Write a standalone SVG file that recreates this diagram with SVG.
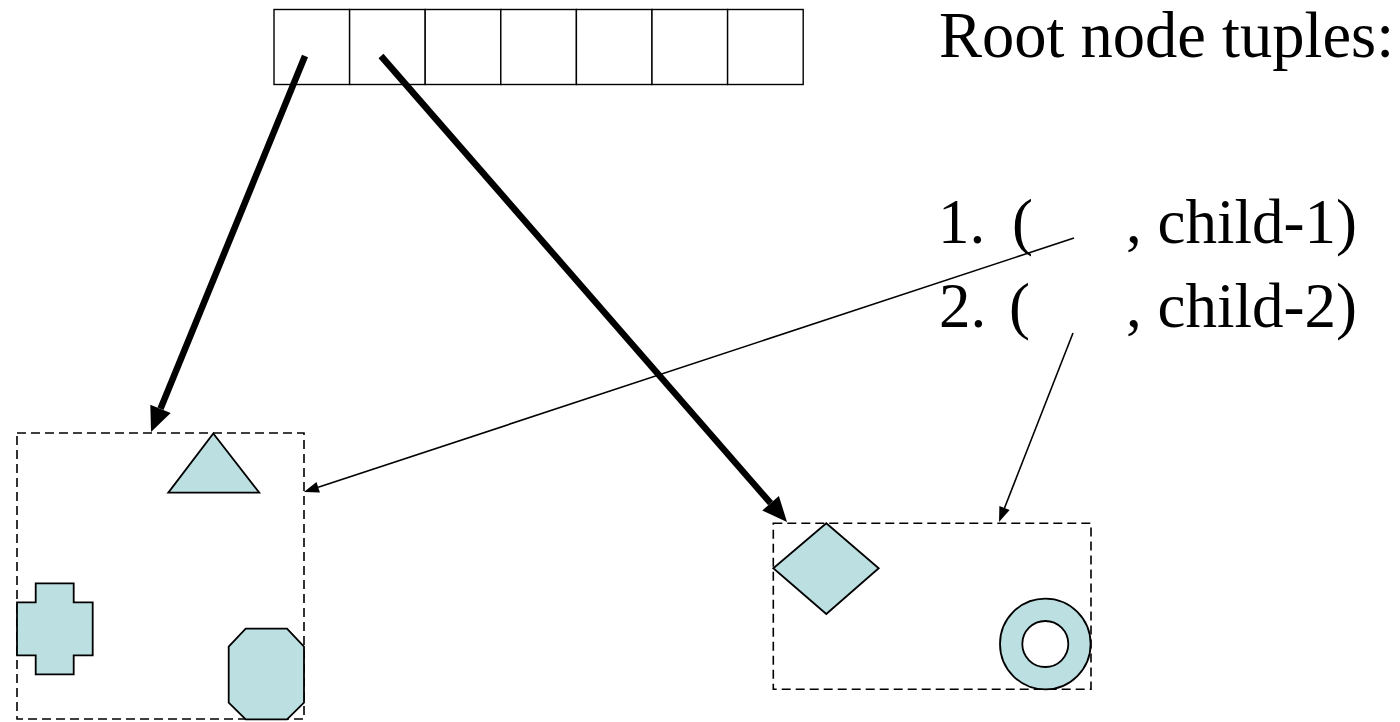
<svg xmlns="http://www.w3.org/2000/svg" width="1400" height="722" viewBox="0 0 1400 722">
<style>
.cell{fill:#fff;stroke:#000;stroke-width:1.4}
.dash{fill:none;stroke:#000;stroke-width:1.6;stroke-dasharray:9 5}
.shape{fill:#bcdfe2;stroke:#000;stroke-width:1.8}
.thick{stroke:#000;stroke-width:6.5;fill:none}
.thin{stroke:#000;stroke-width:1.6;fill:none}
.txt{font-family:"Liberation Serif","Times New Roman",serif;font-size:63px;fill:#000}
.title{font-size:64.5px}
</style>
<defs>
<marker id="headBig" markerUnits="userSpaceOnUse" markerWidth="26" markerHeight="24" refX="0" refY="11" orient="auto" overflow="visible">
<path d="M0,0 L25,11 L0,22 z" fill="#000"/>
</marker>
<marker id="headSmall" markerUnits="userSpaceOnUse" markerWidth="16" markerHeight="12" refX="0" refY="5.5" orient="auto" overflow="visible">
<path d="M0,0 L15,5.5 L0,11 z" fill="#000"/>
</marker>
</defs>
<rect width="1400" height="722" fill="#fff"/>
<g id="array">
<rect class="cell" x="274" y="9.5" width="75.6" height="75"/>
<rect class="cell" x="349.6" y="9.5" width="75.6" height="75"/>
<rect class="cell" x="425.2" y="9.5" width="75.6" height="75"/>
<rect class="cell" x="500.8" y="9.5" width="75.6" height="75"/>
<rect class="cell" x="576.4" y="9.5" width="75.6" height="75"/>
<rect class="cell" x="652" y="9.5" width="75.6" height="75"/>
<rect class="cell" x="727.6" y="9.5" width="75.6" height="75"/>
</g>
<g id="child1">
<rect class="dash" x="17" y="433" width="287" height="286"/>
<polygon class="shape" points="213.3,433.5 259.3,492.7 168.3,492.7"/>
<polygon class="shape" points="35.7,583.3 73.7,583.3 73.7,602.3 92.7,602.3 92.7,655.3 73.7,655.3 73.7,674.3 35.7,674.3 35.7,655.3 17,655.3 17,602.3 35.7,602.3"/>
<polygon class="shape" points="245.7,628.7 287,628.7 304,646.7 304,702.7 287,719.3 245.7,719.3 228.7,702.7 228.7,646.7"/>
</g>
<g id="child2">
<rect class="dash" x="773.3" y="523.3" width="317.7" height="166"/>
<polygon class="shape" points="826.3,523.3 878.7,568.3 826.3,614 773.3,568.3"/>
<path class="shape" fill-rule="evenodd" d="M1000,644 a45.3,45.3 0 1,0 90.6,0 a45.3,45.3 0 1,0 -90.6,0 z M1022.3,644 a23,23 0 1,0 46,0 a23,23 0 1,0 -46,0 z"/>
</g>
<g id="labels">
<text class="txt title" x="939" y="57">Root node tuples:</text>
<text class="txt" y="243"><tspan x="938">1.</tspan><tspan x="1012">(</tspan><tspan x="1126">, child-1)</tspan></text>
<text class="txt" y="327"><tspan x="939">2.</tspan><tspan x="1009">(</tspan><tspan x="1126">, child-2)</tspan></text>
</g>
<g id="connectors">
<line class="thick" x1="305" y1="56" x2="160.5" y2="408.8" marker-end="url(#headBig)"/>
<line class="thick" x1="381" y1="56" x2="770.6" y2="503.2" marker-end="url(#headBig)"/>
<line class="thin" x1="1074" y1="238" x2="318.2" y2="487.3" marker-end="url(#headSmall)"/>
<line class="thin" x1="1073" y1="333" x2="1004.5" y2="508" marker-end="url(#headSmall)"/>
</g>
</svg>
